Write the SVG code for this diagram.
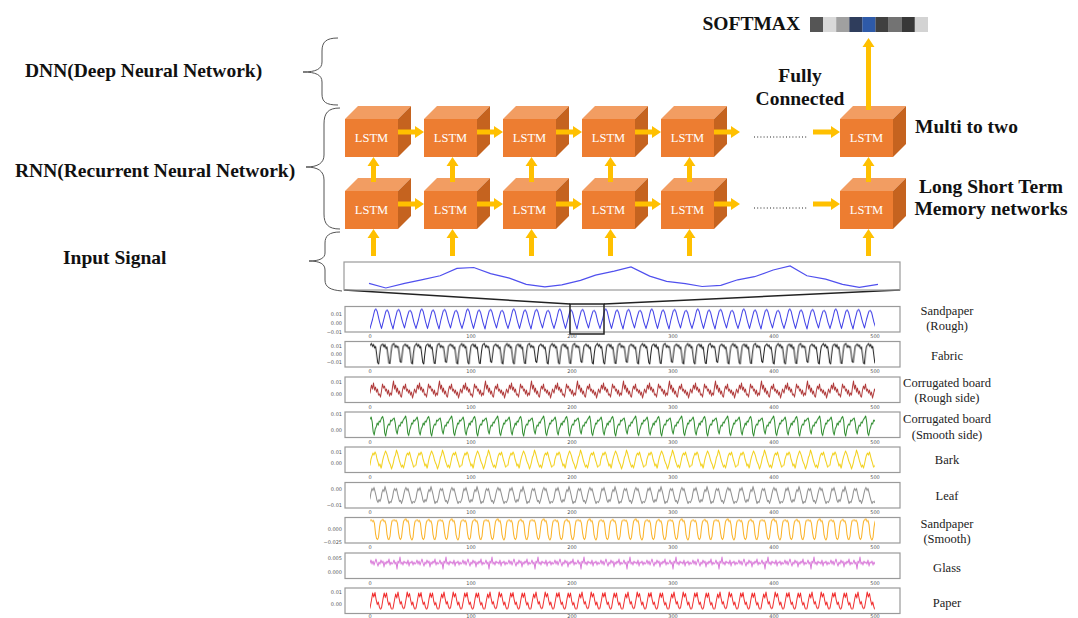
<svg xmlns="http://www.w3.org/2000/svg" xmlns:xlink="http://www.w3.org/1999/xlink" width="1078" height="618" viewBox="0 0 1078 618">
<style>
.hd{font-family:"Liberation Serif","Times New Roman",serif;font-weight:bold;font-size:19.5px;fill:#111}
.lb{font-family:"Liberation Serif","Times New Roman",serif;font-size:12.5px;fill:#222;text-anchor:middle}
.lt{font-family:"Liberation Serif","Times New Roman",serif;font-size:12.5px;fill:#fff;text-anchor:middle}
.front{fill:#ed7d31}.top{fill:#f29d62}.side{fill:#c5631f}
.arr{fill:#ffc000}
.frame{fill:none;stroke:#9a9a9a;stroke-width:1.2}
.tk{font-family:"DejaVu Sans",sans-serif;font-size:5px;fill:#555;text-anchor:middle}
.yl{font-family:"DejaVu Sans",sans-serif;font-size:5px;fill:#555;text-anchor:end}
.brace{fill:none;stroke:#555;stroke-width:1}
.w{fill:none;stroke-width:1;stroke-linejoin:round}
.dots{stroke:#222;stroke-width:1;stroke-dasharray:1 2.2}
.zl{stroke:#222;stroke-width:1.5;fill:none}
</style>
<defs>
<g id="cube">
<polygon class="top" points="0,0 13,-13 66,-13 53,0"/>
<polygon class="side" points="53,0 66,-13 66,25 53,38"/>
<rect class="front" x="0" y="0" width="53" height="38"/>
</g>
<pattern id="p1" patternUnits="userSpaceOnUse" x="370" y="306.5" width="46" height="25.5">
<polyline class="w" stroke="#3a3ae6" points="-2,16 0,22 2.5,13 4.6,4 5.8,2.5 7.2,5 9.5,15 11.5,22 13.5,14 15.8,5 17.2,3.5 18.6,6 21,16 23,22.5 25,13 27.2,4.5 28.7,3 30,5.5 32.4,15 34.5,21.5 36.5,13 38.8,5 40.2,4 41.6,6 44,16 46,22 48,13"/>
</pattern>
<pattern id="p2" patternUnits="userSpaceOnUse" x="370" y="341.5" width="45.2" height="25.5">
<polyline class="w" stroke="#1a1a1a" points="-0.7,5 0,4 1.4,2 2.6,5 3.6,3 4.6,6.5 5.6,5 6.6,13 7.6,21 8.6,22.5 9.6,13 10.6,5 11.3,3.5 12.7,2.5 13.9,5.5 14.9,3 15.9,7 16.9,5.5 17.9,14 18.9,21.5 19.9,22 20.9,12 21.9,4.5 22.6,3 24,2 25.2,6 26.2,4 27.2,6 28.2,5 29.2,12 30.2,20 31.2,21 32.2,13 33.2,5 33.9,4 35.3,2.5 36.5,5 37.5,3.5 38.5,7 39.5,5.5 40.5,13 41.5,21.5 42.5,22.5 43.5,12 44.5,5 45.2,4 46.6,2"/>
</pattern>
<pattern id="p3" patternUnits="userSpaceOnUse" x="370" y="377" width="46" height="25.5">
<polyline class="w" stroke="#b03a3a" points="-1.5,12 0,16 1.5,8 2.5,12 3.5,6 4.5,13 5.5,10 6.5,15 7.5,12 8.5,18 9.5,17 10.5,20 11.5,14 12.5,7 13.5,11 14.5,9 15.5,14 16.5,12 17.5,17 18.5,13 19.5,19 20.5,16 21.5,18 22.5,10 23.5,4 24.5,12 25.5,8 26.5,15 27.5,11 28.5,17 29.5,14 30.5,19 31.5,20 32.5,13 33.5,9 34.5,12 35.5,7 36.5,14 37.5,12 38.5,16 39.5,13 40.5,18 41.5,15 42.5,21 43.5,17 44.5,12 46,16 47.5,8"/>
</pattern>
<pattern id="p4" patternUnits="userSpaceOnUse" x="370" y="412" width="46" height="25.5">
<polyline class="w" stroke="#2a8a2a" points="-1.3,9 0,7 1.2,5 2.2,10 3.2,20 4.2,23 5.2,17 6.2,15 7.2,11 8.2,13 9.2,9 10.2,10 11.5,6 12.7,4.5 13.7,9 14.7,21 15.7,24 16.7,18 17.7,14 18.7,12 19.7,13 20.7,8 21.7,9 23,7 24.2,6 25.2,11 26.2,19 27.2,22 28.2,16 29.2,13 30.2,14 31.2,10 32.2,11 33.2,8 34.5,6 35.7,4 36.7,10 37.7,21 38.7,23.5 39.7,18 40.7,15 41.7,11 42.7,12 43.7,8 44.7,9 46,7 47.2,5"/>
</pattern>
<pattern id="p5" patternUnits="userSpaceOnUse" x="370" y="447" width="46" height="25.5">
<polyline class="w" stroke="#f2cf14" points="-1.5,19 0,18 1,12 2,9 3,6 4,8 5,5 6,7 7,12 8,15 9,19 10,17 11,21 11.5,20 12.5,14 13.5,10 14.5,7 15.5,4 16.5,6 17.5,9 18.5,13 19.5,16 20.5,18 21.5,22 22.5,19 23.5,15 24.5,10 25.5,8 26.5,3 27.5,6 28.5,10 29.5,14 30.5,17 31.5,20 32.5,18 33.5,21 34.5,17 35.5,12 36.5,8 37.5,6 38.5,8 39.5,5 40.5,9 41.5,13 42.5,16 43.5,20 44.5,19 46,18 47,12"/>
</pattern>
<pattern id="p6" patternUnits="userSpaceOnUse" x="370" y="482.5" width="46" height="25.5">
<polyline class="w" stroke="#8c8c8c" points="-1.5,20 0,16 1,10 2,6 3,8 4,5 5,9 6,13 7,18 8,20 9,17 10,19 11,16 12,10 13,7 14,9 15,4 16,8 17,12 18,17 19,21 20,19 21,20 22.5,15 23.5,9 24.5,6 25.5,8 26.5,6 27.5,11 28.5,15 29.5,19 30.5,18 31.5,21 33,16 34,11 35,7 36,5 37,8 38,6 39,10 40,14 41,18 42,21 43,19 44.5,20 46,16 47,10"/>
</pattern>
<pattern id="p7" patternUnits="userSpaceOnUse" x="370" y="517.5" width="46" height="25.5">
<polyline class="w" stroke="#fbb020" points="-1,4 0,3 1.5,2.5 2.5,4 3.5,3 4.5,6 5.5,16 6.5,21 7.5,22 8.5,20 9.5,10 10.5,4 11.5,3 13,2 14,4 15,3.5 16,7 17,17 18,21.5 19,22 20,19 21,9 22,3.5 23,3 24.5,2.5 25.5,3.5 26.5,3 27.5,6 28.5,15 29.5,20.5 30.5,22 31.5,20 32.5,11 33.5,4 34.5,2.5 36,1.5 37,4 38,3 39,7 40,17 41,21 42,22.5 43,20 44,10 45,4 46,3 47.5,2.5"/>
</pattern>
<pattern id="p8" patternUnits="userSpaceOnUse" x="370" y="553" width="46" height="25.5">
<polyline class="w" stroke="#d97ad9" points="-1,11 0,10 1,7 2,11 3,8 4,12 5,9 6,6 7,10 8,13 9,9 10,11 11,7 12,10 13,8 14,14 15,9 16,11 17,8 18,10 19,6 20,12 21,9 22,11 23,10 24,7 25,11 26,9 27,16 28,8 29,10 30,4 31,11 32,9 33,12 34,8 35,10 36,9 37,11 38,7 39,13 40,9 41,10 42,8 43,12 44,9 45,11 46,10 47,7"/>
</pattern>
<pattern id="p9" patternUnits="userSpaceOnUse" x="370" y="588" width="46" height="25.5">
<polyline class="w" stroke="#f02a2a" points="-1,21 0,20 1.5,12 2.7,5 3.8,9 5,4.5 6.2,12 7.3,16.5 8.3,14 9.5,19.5 10.5,21 11.5,20 13,11 14.2,5 15.3,9.5 16.5,5 17.7,13 18.8,17 19.8,14.5 21,20 22,21 23,20.5 24.5,12 25.7,6 26.8,10 28,4 29.2,11 30.3,16 31.3,13.5 32.5,19 33.5,20.5 34.5,20 36,11.5 37.2,4 38.3,9 39.5,5.5 40.7,12.5 41.8,17 42.8,14 44,19.5 45,21 46,20 47.5,12"/>
</pattern>
</defs>
<rect width="1078" height="618" fill="#fff"/>

<g id="labels-left">
<text class="hd" x="25" y="77">DNN(Deep Neural Network)</text>
<text class="hd" x="15" y="176.5">RNN(Recurrent Neural Network)</text>
<text class="hd" x="63" y="264">Input Signal</text>
<path class="brace" d="M338,38 C326,38 322,42 322,51 L322,62 C322,69 316,72 303,72 C316,72 322,75 322,82 L322,94 C322,102 326,105 338,105"/>
<path class="brace" d="M340,108 C328,108 324,113 324,124 L324,155 C324,163 318,167 306,167 C318,167 324,171 324,180 L324,214 C324,224 328,229 340,229"/>
<path class="brace" d="M340,232 C329,232 325,236 325,243 L325,253 C325,258 320,261 309,261 C320,261 325,264 325,270 L325,280 C325,287 330,290 342,291"/>
</g>

<g id="labels-right">
<text class="hd" x="800" y="82" text-anchor="middle">Fully</text>
<text class="hd" x="800" y="105" text-anchor="middle">Connected</text>
<text class="hd" x="915" y="133">Multi to two</text>
<text class="hd" x="991" y="192.5" text-anchor="middle">Long Short Term</text>
<text class="hd" x="991" y="215" text-anchor="middle">Memory networks</text>
</g>

<g id="softmax">
<text class="hd" x="800" y="30" text-anchor="end">SOFTMAX</text>
<rect x="810" y="17" width="13.2" height="15" fill="#555555"/>
<rect x="823.1" y="17" width="13.2" height="15" fill="#d9d9d9"/>
<rect x="836.2" y="17" width="13.2" height="15" fill="#a0a0a0"/>
<rect x="849.3" y="17" width="13.2" height="15" fill="#2f3d5c"/>
<rect x="862.4" y="17" width="13.2" height="15" fill="#2e5aa8"/>
<rect x="875.5" y="17" width="13.2" height="15" fill="#404040"/>
<rect x="888.6" y="17" width="13.2" height="15" fill="#737373"/>
<rect x="901.7" y="17" width="13.2" height="15" fill="#383838"/>
<rect x="914.8" y="17" width="13.2" height="15" fill="#d3d3d3"/>
</g>

<g id="lstm-t1" transform="translate(345,119)"><use xlink:href="#cube"/><text class="lt" x="26.5" y="23.3">LSTM</text></g>
<g id="lstm-t2" transform="translate(424,119)"><use xlink:href="#cube"/><text class="lt" x="26.5" y="23.3">LSTM</text></g>
<g id="lstm-t3" transform="translate(503,119)"><use xlink:href="#cube"/><text class="lt" x="26.5" y="23.3">LSTM</text></g>
<g id="lstm-t4" transform="translate(582,119)"><use xlink:href="#cube"/><text class="lt" x="26.5" y="23.3">LSTM</text></g>
<g id="lstm-t5" transform="translate(661,119)"><use xlink:href="#cube"/><text class="lt" x="26.5" y="23.3">LSTM</text></g>
<g id="lstm-t6" transform="translate(840,119)"><use xlink:href="#cube"/><text class="lt" x="26.5" y="23.3">LSTM</text></g>
<g id="lstm-b1" transform="translate(345,191)"><use xlink:href="#cube"/><text class="lt" x="26.5" y="23.3">LSTM</text></g>
<g id="lstm-b2" transform="translate(424,191)"><use xlink:href="#cube"/><text class="lt" x="26.5" y="23.3">LSTM</text></g>
<g id="lstm-b3" transform="translate(503,191)"><use xlink:href="#cube"/><text class="lt" x="26.5" y="23.3">LSTM</text></g>
<g id="lstm-b4" transform="translate(582,191)"><use xlink:href="#cube"/><text class="lt" x="26.5" y="23.3">LSTM</text></g>
<g id="lstm-b5" transform="translate(661,191)"><use xlink:href="#cube"/><text class="lt" x="26.5" y="23.3">LSTM</text></g>
<g id="lstm-b6" transform="translate(840,191)"><use xlink:href="#cube"/><text class="lt" x="26.5" y="23.3">LSTM</text></g>

<g id="connectors">
<path class="arr" d="M398,129.5H415V126L424,132L415,138V134.5H398Z"/>
<path class="arr" d="M477,129.5H494V126L503,132L494,138V134.5H477Z"/>
<path class="arr" d="M556,129.5H573V126L582,132L573,138V134.5H556Z"/>
<path class="arr" d="M635,129.5H652V126L661,132L652,138V134.5H635Z"/>
<path class="arr" d="M714,129.5H731V126L740,132L731,138V134.5H714Z"/>
<path class="arr" d="M813,129.5H831V126L840,132L831,138V134.5H813Z"/>
<line class="dots" x1="754" y1="137" x2="808" y2="137"/>
<path class="arr" d="M398,201.5H415V198L424,204L415,210V206.5H398Z"/>
<path class="arr" d="M477,201.5H494V198L503,204L494,210V206.5H477Z"/>
<path class="arr" d="M556,201.5H573V198L582,204L573,210V206.5H556Z"/>
<path class="arr" d="M635,201.5H652V198L661,204L652,210V206.5H635Z"/>
<path class="arr" d="M714,201.5H731V198L740,204L731,210V206.5H714Z"/>
<path class="arr" d="M813,201.5H831V198L840,204L831,210V206.5H813Z"/>
<line class="dots" x1="754" y1="208" x2="808" y2="208"/>
<path class="arr" d="M371,182V166H367.5L373.5,157L379.5,166H376V182Z"/>
<path class="arr" d="M450,182V166H446.5L452.5,157L458.5,166H455V182Z"/>
<path class="arr" d="M529,182V166H525.5L531.5,157L537.5,166H534V182Z"/>
<path class="arr" d="M608,182V166H604.5L610.5,157L616.5,166H613V182Z"/>
<path class="arr" d="M687,182V166H683.5L689.5,157L695.5,166H692V182Z"/>
<path class="arr" d="M866,182V166H862.5L868.5,157L874.5,166H871V182Z"/>
<path class="arr" d="M371,256V238H367.5L373.5,229L379.5,238H376V256Z"/>
<path class="arr" d="M450,256V238H446.5L452.5,229L458.5,238H455V256Z"/>
<path class="arr" d="M529,256V238H525.5L531.5,229L537.5,238H534V256Z"/>
<path class="arr" d="M608,256V238H604.5L610.5,229L616.5,238H613V256Z"/>
<path class="arr" d="M687,256V238H683.5L689.5,229L695.5,238H692V256Z"/>
<path class="arr" d="M866,256V238H862.5L868.5,229L874.5,238H871V256Z"/>
<path class="arr" d="M866,110V47H862.5L868.5,38L874.5,47H871V110Z"/>
<line class="zl" x1="344" y1="290" x2="570" y2="304"/>
<line class="zl" x1="900" y1="290" x2="604" y2="304"/>
</g>

<g id="input-signal">
<rect class="frame" x="344" y="262" width="556" height="28" stroke-width="1.5"/>
<polyline fill="none" stroke="#5050ee" stroke-width="1.2" points="369,283.4 385.8,288 404.6,283.4 421.4,279.8 440.1,275.8 456.9,268.4 473.8,267.5 490.6,273.6 509.4,278.2 526.2,284.3 544.9,286.8 561.8,284.9 580.5,280.4 595.5,275.2 614.2,271.2 631,266.9 649.7,276.1 666.6,281.3 685.3,283.7 702.1,286.5 720.8,285.3 737.7,279.8 754.5,276.7 773.2,270 790.1,266 806.9,275.8 825.6,279.1 842.5,284.3 859.3,287.4 878,284.3"/>
</g>

<g id="plots">
<g id="plot1">
<rect class="frame" x="345" y="306.5" width="555" height="25.5"/>
<rect x="370" y="306.5" width="505" height="25.5" fill="url(#p1)"/>
<rect class="zl" x="570" y="304" width="34" height="30"/>
<text class="yl" x="342" y="315.8">0.01</text><text class="yl" x="342" y="324.8">0.00</text><text class="yl" x="342" y="333.8">−0.01</text>
<text class="tk" x="370" y="338">0</text><text class="tk" x="471" y="338">100</text><text class="tk" x="572" y="338">200</text><text class="tk" x="673" y="338">300</text><text class="tk" x="774" y="338">400</text><text class="tk" x="875" y="338">500</text>
</g>
<g id="plot2">
<rect class="frame" x="345" y="341.5" width="555" height="25.5"/>
<rect x="370" y="341.5" width="505" height="25.5" fill="url(#p2)"/>
<text class="yl" x="342" y="347.8">0.01</text><text class="yl" x="342" y="355.8">0.00</text><text class="yl" x="342" y="363.8">−0.01</text>
<text class="tk" x="370" y="373">0</text><text class="tk" x="471" y="373">100</text><text class="tk" x="572" y="373">200</text><text class="tk" x="673" y="373">300</text><text class="tk" x="774" y="373">400</text><text class="tk" x="875" y="373">500</text>
</g>
<g id="plot3">
<rect class="frame" x="345" y="377" width="555" height="25.5"/>
<rect x="370" y="377" width="505" height="25.5" fill="url(#p3)"/>
<text class="yl" x="342" y="383.8">0.01</text><text class="yl" x="342" y="395.8">0.00</text>
<text class="tk" x="370" y="408.5">0</text><text class="tk" x="471" y="408.5">100</text><text class="tk" x="572" y="408.5">200</text><text class="tk" x="673" y="408.5">300</text><text class="tk" x="774" y="408.5">400</text><text class="tk" x="875" y="408.5">500</text>
</g>
<g id="plot4">
<rect class="frame" x="345" y="412" width="555" height="25.5"/>
<rect x="370" y="412" width="505" height="25.5" fill="url(#p4)"/>
<text class="yl" x="342" y="415.8">0.01</text><text class="yl" x="342" y="431.8">0.00</text>
<text class="tk" x="370" y="443.5">0</text><text class="tk" x="471" y="443.5">100</text><text class="tk" x="572" y="443.5">200</text><text class="tk" x="673" y="443.5">300</text><text class="tk" x="774" y="443.5">400</text><text class="tk" x="875" y="443.5">500</text>
</g>
<g id="plot5">
<rect class="frame" x="345" y="447" width="555" height="25.5"/>
<rect x="370" y="447" width="505" height="25.5" fill="url(#p5)"/>
<text class="yl" x="342" y="453.8">0.01</text><text class="yl" x="342" y="464.8">0.00</text>
<text class="tk" x="370" y="478.5">0</text><text class="tk" x="471" y="478.5">100</text><text class="tk" x="572" y="478.5">200</text><text class="tk" x="673" y="478.5">300</text><text class="tk" x="774" y="478.5">400</text><text class="tk" x="875" y="478.5">500</text>
</g>
<g id="plot6">
<rect class="frame" x="345" y="482.5" width="555" height="25.5"/>
<rect x="370" y="482.5" width="505" height="25.5" fill="url(#p6)"/>
<text class="yl" x="342" y="490.8">0.00</text><text class="yl" x="342" y="506.8">−0.01</text>
<text class="tk" x="370" y="514">0</text><text class="tk" x="471" y="514">100</text><text class="tk" x="572" y="514">200</text><text class="tk" x="673" y="514">300</text><text class="tk" x="774" y="514">400</text><text class="tk" x="875" y="514">500</text>
</g>
<g id="plot7">
<rect class="frame" x="345" y="517.5" width="555" height="25.5"/>
<rect x="370" y="517.5" width="505" height="25.5" fill="url(#p7)"/>
<text class="yl" x="342" y="530.8">0.000</text><text class="yl" x="342" y="543.8">−0.025</text>
<text class="tk" x="370" y="549">0</text><text class="tk" x="471" y="549">100</text><text class="tk" x="572" y="549">200</text><text class="tk" x="673" y="549">300</text><text class="tk" x="774" y="549">400</text><text class="tk" x="875" y="549">500</text>
</g>
<g id="plot8">
<rect class="frame" x="345" y="553" width="555" height="25.5"/>
<rect x="370" y="553" width="505" height="25.5" fill="url(#p8)"/>
<text class="yl" x="342" y="559.8">0.005</text><text class="yl" x="342" y="573.8">0.000</text>
<text class="tk" x="370" y="584.5">0</text><text class="tk" x="471" y="584.5">100</text><text class="tk" x="572" y="584.5">200</text><text class="tk" x="673" y="584.5">300</text><text class="tk" x="774" y="584.5">400</text><text class="tk" x="875" y="584.5">500</text>
</g>
<g id="plot9">
<rect class="frame" x="345" y="588" width="555" height="25.5"/>
<rect x="370" y="588" width="505" height="25.5" fill="url(#p9)"/>
<text class="yl" x="342" y="593.8">0.01</text><text class="yl" x="342" y="605.8">0.00</text>
<text class="tk" x="370" y="617.5">0</text><text class="tk" x="471" y="617.5">100</text><text class="tk" x="572" y="617.5">200</text><text class="tk" x="673" y="617.5">300</text><text class="tk" x="774" y="617.5">400</text><text class="tk" x="875" y="617.5">500</text>
</g>
</g>

<g id="material-labels">
<text class="lb" x="947" y="314.5">Sandpaper</text><text class="lb" x="947" y="329.5">(Rough)</text>
<text class="lb" x="947" y="359.5">Fabric</text>
<text class="lb" x="947" y="386.5">Corrugated board</text><text class="lb" x="947" y="401.5">(Rough side)</text>
<text class="lb" x="947" y="422.5">Corrugated board</text><text class="lb" x="947" y="438.5">(Smooth side)</text>
<text class="lb" x="947" y="463.5">Bark</text>
<text class="lb" x="947" y="499.5">Leaf</text>
<text class="lb" x="947" y="527.5">Sandpaper</text><text class="lb" x="947" y="542.5">(Smooth)</text>
<text class="lb" x="947" y="571.5">Glass</text>
<text class="lb" x="947" y="606.5">Paper</text>
</g>
</svg>
